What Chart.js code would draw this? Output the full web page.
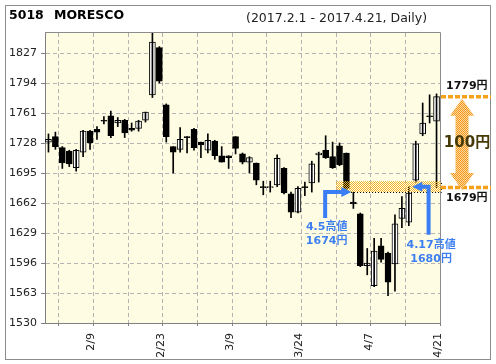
<!DOCTYPE html>
<html>
<head>
<meta charset="utf-8">
<script src="https://cdn.jsdelivr.net/npm/chart.js@4.4.1/dist/chart.umd.min.js"></script>
<style>
  html, body { margin: 0; padding: 0; background: #fff; }
</style>
</head>
<body>
<canvas id="chart" width="496" height="364"></canvas>
<script>
// daily candles, 2017.2.1 - 2017.4.21
const dates = ['2/1','2/2','2/3','2/6','2/7','2/8','2/9','2/10','2/13','2/14','2/15','2/16','2/17','2/20','2/21','2/22','2/23','2/24','2/27','2/28',
  '3/1','3/2','3/3','3/6','3/7','3/8','3/9','3/10','3/13','3/14','3/15','3/16','3/17','3/21','3/22','3/23','3/24','3/27','3/28','3/29','3/30','3/31',
  '4/3','4/4','4/5','4/6','4/7','4/10','4/11','4/12','4/13','4/14','4/17','4/18','4/19','4/20','4/21'];
const openP  = [1729,1735,1723,1719,1701,1718,1741,1743,1753,1758,1750,1753,1744,1744,1753,1781,1833,1770,1724,1721,
  1735,1743,1729,1720,1730,1714,1714,1735,1716,1707,1706,1680,1679,1682,1700,1672,1652,1680,1684,1715,1720,1713,
  1725,1717,1663,1650,1593,1571,1615,1607,1595,1645,1641,1687,1738,1758,1752];
const highP  = [1738,1740,1724,1720,1721,1742,1742,1746,1757,1763,1756,1754,1750,1753,1762,1852,1834,1771,1724,1745,
  1735,1744,1729,1738,1731,1724,1714,1735,1717,1713,1706,1686,1686,1715,1701,1674,1680,1685,1708,1718,1736,1729,
  1728,1717,1674,1651,1612,1623,1623,1608,1649,1669,1680,1730,1772,1781,1782];
const lowP   = [1718,1721,1700,1702,1697,1713,1721,1732,1749,1734,1746,1734,1741,1741,1751,1778,1794,1729,1695,1718,
  1717,1720,1712,1717,1710,1707,1700,1716,1705,1695,1682,1671,1674,1680,1672,1646,1651,1670,1674,1685,1711,1700,
  1703,1677,1656,1592,1583,1570,1597,1560,1565,1635,1637,1685,1736,1750,1679];
const closeP = [1732,1724,1706,1705,1720,1741,1728,1740,1752,1736,1753,1739,1742,1752,1762,1839,1796,1735,1718,1732,
  1734,1723,1726,1731,1714,1707,1712,1722,1707,1712,1687,1679,1680,1711,1673,1652,1678,1679,1705,1717,1712,1701,
  1704,1678,1661,1593,1596,1609,1600,1575,1639,1656,1673,1727,1750,1757,1779];

const yTicks = [1530, 1563, 1596, 1629, 1662, 1695, 1728, 1761, 1794, 1827];
const tickDates = ['2/9', '2/23', '3/9', '3/24', '4/7', '4/21'];

const titleCode = '5018';
const titleName = 'MORESCO';
const period = '(2017.2.1 - 2017.4.21, Daily)';

// notes drawn on top
const rangeLevels = [1779, 1679];
const rangeLabels = ['1779円', '1679円'];
const rangeText = '100円';
const gapZone = [1674, 1686];
const gapNotes = [
  { day: 44, price: 1674, text: ['4.5高値', '1674円'] },
  { day: 52, price: 1680, text: ['4.17高値', '1680円'] }
];

const idx = dates.map((d, i) => i);
const xTickPos = [];
for (let v = 1.5; v <= dates.length; v += 5) xTickPos.push(v);

function dotPattern(ctx, a, b) {
  const c = document.createElement('canvas');
  c.width = 2; c.height = 2;
  const g = c.getContext('2d');
  if (b) { g.fillStyle = b; g.fillRect(0, 0, 2, 2); }
  g.fillStyle = a;
  g.fillRect(0, 0, 1, 1);
  g.fillRect(1, 1, 1, 1);
  return ctx.createPattern(c, 'repeat');
}

function doubleArrow(ctx, cx, yTop, yBot, headLen, headHalf, shaftHalf) {
  ctx.beginPath();
  ctx.moveTo(cx, yTop);
  ctx.lineTo(cx + headHalf, yTop + headLen);
  ctx.lineTo(cx + shaftHalf, yTop + headLen);
  ctx.lineTo(cx + shaftHalf, yBot - headLen);
  ctx.lineTo(cx + headHalf, yBot - headLen);
  ctx.lineTo(cx, yBot);
  ctx.lineTo(cx - headHalf, yBot - headLen);
  ctx.lineTo(cx - shaftHalf, yBot - headLen);
  ctx.lineTo(cx - shaftHalf, yTop + headLen);
  ctx.lineTo(cx - headHalf, yTop + headLen);
  ctx.closePath();
  ctx.fill();
}

function elbowArrow(ctx, x0, y0, yT, tipX) {
  const dir = tipX > x0 ? 1 : -1;
  ctx.lineWidth = 4;
  ctx.lineJoin = 'miter';
  ctx.beginPath();
  ctx.moveTo(x0, y0);
  ctx.lineTo(x0, yT);
  ctx.lineTo(tipX - dir * 8, yT);
  ctx.stroke();
  ctx.beginPath();
  ctx.moveTo(tipX, yT);
  ctx.lineTo(tipX - dir * 10, yT - 5);
  ctx.lineTo(tipX - dir * 10, yT + 5);
  ctx.closePath();
  ctx.fill();
}

const decor = {
  id: 'decor',
  beforeDraw(chart) {
    const { ctx, chartArea: a } = chart;
    ctx.save();
    ctx.fillStyle = '#fff';
    ctx.fillRect(0, 0, chart.width, chart.height);
    ctx.fillStyle = '#fefde3';
    ctx.fillRect(a.left, a.top, a.right - a.left, a.bottom - a.top);
    ctx.strokeStyle = '#8c8c8c';
    ctx.lineWidth = 1;
    ctx.strokeRect(5.5, 5.5, 485, 354);
    ctx.fillStyle = '#000';
    ctx.textBaseline = 'middle';
    ctx.font = 'bold 12.5px "DejaVu Sans"';
    ctx.fillText(titleCode, 9, 16);
    ctx.fillText(titleName, 54, 16);
    ctx.fillStyle = '#222';
    ctx.font = '12.5px "DejaVu Sans"';
    ctx.fillText(period, 246, 19);
    ctx.restore();
  },
  afterDatasetsDraw(chart) {
    const { ctx, chartArea: a, scales: { x, y } } = chart;
    ctx.save();
    // plot frame
    ctx.strokeStyle = '#8c8c8c';
    ctx.lineWidth = 1;
    ctx.beginPath();
    ctx.moveTo(a.left, a.top - 0.5);
    ctx.lineTo(a.right + 0.5, a.top - 0.5);
    ctx.lineTo(a.right + 0.5, a.bottom);
    ctx.stroke();

    // gap zone
    const gx = x.getPixelForValue(41.5);
    const gTop = y.getPixelForValue(gapZone[1]);
    const gBot = y.getPixelForValue(gapZone[0]);
    ctx.fillStyle = dotPattern(ctx, '#f2b42c');
    ctx.fillRect(gx, gTop, a.right + 1 - gx, gBot - gTop);
    ctx.strokeStyle = '#000';
    ctx.setLineDash([1, 2]);
    ctx.beginPath();
    ctx.moveTo(gx, Math.round(gBot) + 0.5);
    ctx.lineTo(a.right + 1.5, Math.round(gBot) + 0.5);
    ctx.lineTo(a.right + 1.5, gTop);
    ctx.stroke();
    ctx.setLineDash([]);

    // range lines and arrow on the right
    const yHi = y.getPixelForValue(rangeLevels[0]);
    const yLo = y.getPixelForValue(rangeLevels[1]);
    ctx.strokeStyle = '#f7a11a';
    ctx.lineWidth = 3.5;
    ctx.setLineDash([5, 2]);
    [yHi, yLo].forEach(py => {
      ctx.beginPath();
      ctx.moveTo(a.right + 1, py);
      ctx.lineTo(a.right + 51, py);
      ctx.stroke();
    });
    ctx.setLineDash([]);
    ctx.fillStyle = dotPattern(ctx, '#f39a1d', '#fcd8a0');
    doubleArrow(ctx, a.right + 22, yHi + 2, yLo + 2.5, 17, 12, 6.5);

    ctx.fillStyle = '#111';
    ctx.font = 'bold 11px "DejaVu Sans", "Noto Sans CJK JP"';
    ctx.textBaseline = 'middle';
    ctx.textAlign = 'left';
    ctx.fillText(rangeLabels[0], a.right + 6, yHi - 10.5);
    ctx.fillText(rangeLabels[1], a.right + 6, yLo + 11);
    ctx.fillStyle = '#463a08';
    ctx.font = 'bold 15px "DejaVu Sans", "Noto Sans CJK JP"';
    ctx.textAlign = 'center';
    ctx.fillText(rangeText, a.right + 27, (yHi + yLo) / 2 + 1);

    // blue arrows to the two highs
    ctx.strokeStyle = '#3a7df4';
    ctx.fillStyle = '#3a7df4';
    const n1 = gapNotes[0], n2 = gapNotes[1];
    const p1 = y.getPixelForValue(n1.price);
    const x1 = x.getPixelForValue(n1.day - 4) - 0.5;
    elbowArrow(ctx, x1, p1 + 26, p1, x.getPixelForValue(n1.day) - 2);
    const p2 = y.getPixelForValue(n2.price);
    const x2 = x.getPixelForValue(n2.day + 3) - 1;
    elbowArrow(ctx, x2, p2 + 48, p2, x.getPixelForValue(n2.day) + 3.5);

    ctx.fillStyle = '#3d7ff0';
    ctx.font = 'bold 11px "DejaVu Sans", "Noto Sans CJK JP"';
    ctx.textAlign = 'center';
    ctx.fillText(n1.text[0], x1 + 1.5, p1 + 35.5);
    ctx.fillText(n1.text[1], x1 + 1.5, p1 + 49.5);
    ctx.fillText(n2.text[0], x2 + 2.5, p2 + 58.5);
    ctx.fillText(n2.text[1], x2 + 2.5, p2 + 72.5);
    ctx.restore();
  }
};

Chart.defaults.font.family = '"DejaVu Sans"';

new Chart(document.getElementById('chart'), {
  type: 'bar',
  data: {
    datasets: [
      {
        label: 'wick',
        data: idx.map(i => ({ x: i, y: [lowP[i], highP[i]] })),
        backgroundColor: '#000',
        borderWidth: 0,
        barThickness: 1,
        grouped: false
      },
      {
        label: 'body',
        data: idx.map(i => ({ x: i, y: [openP[i], closeP[i]] })),
        backgroundColor: idx.map(i => (closeP[i] >= openP[i] ? '#ffffff' : '#000000')),
        borderColor: '#000',
        borderWidth: 1,
        borderSkipped: false,
        barThickness: 6,
        grouped: false
      }
    ]
  },
  options: {
    responsive: false,
    animation: false,
    layout: { padding: { left: 0, top: 33, right: 56, bottom: 0 } },
    plugins: { legend: { display: false }, tooltip: { enabled: false } },
    scales: {
      x: {
        type: 'linear',
        offset: false,
        min: -0.5,
        max: dates.length - 0.5,
        afterBuildTicks: (scale) => { scale.ticks = xTickPos.map(v => ({ value: v })); },
        afterFit: (scale) => { scale.height = 41; },
        ticks: {
          autoSkip: false,
          minRotation: 90,
          maxRotation: 90,
          padding: 7,
          labelOffset: -2,
          color: '#222',
          font: { size: 11 },
          callback: (v) => {
            const d = dates[Math.round(v - 0.5)];
            return tickDates.includes(d) ? d : '';
          }
        },
        grid: { offset: false, color: '#b4b4b4', tickColor: '#808080', tickLength: 3 },
        border: { color: '#808080', dash: [4, 3] }
      },
      y: {
        min: 1530,
        max: 1849,
        afterBuildTicks: (scale) => { scale.ticks = yTicks.map(v => ({ value: v })); },
        afterFit: (scale) => { scale.width = 45; },
        ticks: { padding: 4, color: '#222', font: { size: 11 }, callback: (v) => String(v) },
        grid: { color: '#b4b4b4', tickColor: '#808080', tickLength: 4 },
        border: { color: '#808080', dash: [4, 3] }
      }
    }
  },
  plugins: [decor]
});
</script>
</body>
</html>
